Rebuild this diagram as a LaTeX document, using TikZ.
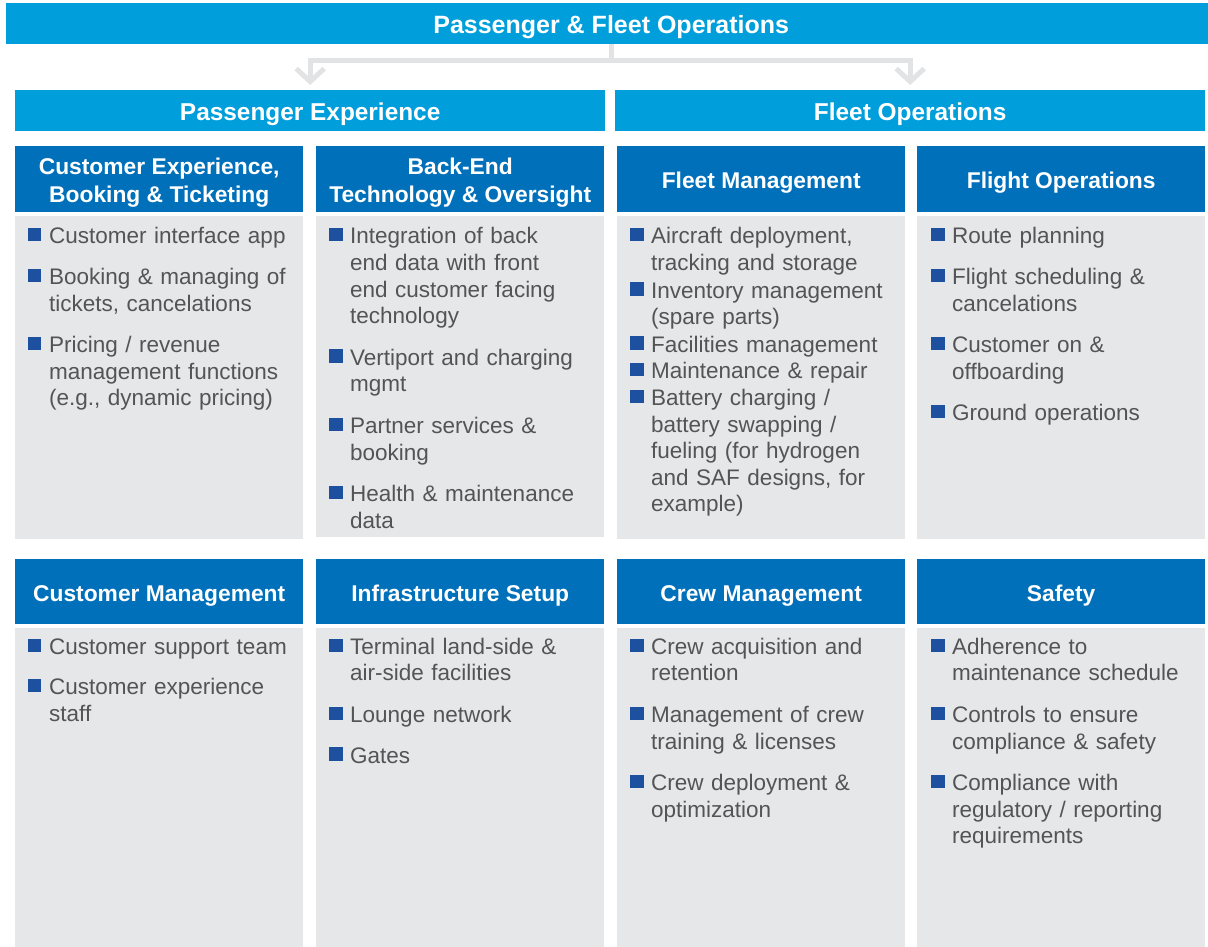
\documentclass[tikz,border=0pt]{standalone}
\usepackage{fontspec}
\setmainfont{Liberation Sans}
\usetikzlibrary{arrows.meta}
\definecolor{topblue}{RGB}{0,158,219}
\definecolor{headblue}{RGB}{0,112,186}
\definecolor{bodygray}{RGB}{230,231,232}
\definecolor{bltblue}{RGB}{30,80,160}
\definecolor{txtgray}{RGB}{84,84,86}
\definecolor{conngray}{RGB}{226,227,228}
% square bullet and one list entry (optional: space after it)
\newcommand{\sqbul}{\makebox[21pt][l]{\textcolor{bltblue}{\rule[2.5pt]{13.3pt}{13.3pt}}}}
\newcommand{\bitem}[2][14pt]{\noindent\sqbul\begin{tabular}[t]{@{}l@{}}#2\end{tabular}\par\vspace{#1}}

\begin{document}
\begin{tikzpicture}[x=1pt, y=-1pt,
    topbar/.style={anchor=north west, fill=topblue, text=white, inner sep=0pt, minimum height=40.5pt, text height=25pt, font=\fontsize{24.4}{28}\selectfont\bfseries},
    colhead/.style={anchor=north west, fill=headblue, text=white, inner sep=0pt, minimum width=288pt, minimum height=65.5pt, text height=24.6pt, align=center, font=\fontsize{22.8}{28}\selectfont\bfseries},
    colhead2/.style={colhead, text height=52.6pt},
    colbody/.style={anchor=north west, fill=bodygray, inner sep=0pt, minimum width=288pt},
    items/.style={anchor=north west, inner sep=0pt, text width=270pt, align=left, text=txtgray, font=\fontsize{22.5}{26.6}\selectfont},
    conn/.style={conngray, line width=5pt, -{Straight Barb[length=13pt, width=28pt]}, shorten >=5pt}]
  \useasboundingbox (0,0) rectangle (1208,946);

  % Top: whole operation
  \node[topbar, minimum width=1210pt, font=\fontsize{25}{28}\selectfont\bfseries, text height=26pt] (pfo) at (6,3) {Passenger \& Fleet Operations};

  % Second level
  \node[topbar, minimum width=590pt] (pe) at (15,90) {Passenger Experience};
  \node[topbar, minimum width=590pt] (fo) at (615,90) {Fleet Operations};

  % Connectors
  \draw[conn] (pfo.south) -- ++(0,17) -| (pe.north);
  \draw[conn] (pfo.south) -- ++(0,17) -| (fo.north);

  % Upper row of boxes
  \node[colhead2] (ceb) at (15,146) {Customer Experience,\\Booking \& Ticketing};
  \node[colhead2] (bet) at (316,146) {Back-End\\Technology \& Oversight};
  \node[colhead] (fm) at (617,146) {Fleet Management};
  \node[colhead] (fop) at (917,146) {Flight Operations};
  \node[colbody, minimum height=323pt] (cebb) at (15,216) {};
  \node[colbody, minimum height=321pt] (betb) at (316,216) {};
  \node[colbody, minimum height=323pt] (fmb) at (617,216) {};
  \node[colbody, minimum height=323pt] (fopb) at (917,216) {};

  \node[items] (cebt) at (28,225) {
    \bitem{Customer interface app}
    \bitem{Booking \& managing of\\tickets, cancelations}
    \bitem{Pricing / revenue\\management functions\\(e.g., dynamic pricing)}
  };
  \node[items] (bett) at (329,225) {
    \bitem{Integration of back\\end data with front\\end customer facing\\technology}
    \bitem{Vertiport and charging\\mgmt}
    \bitem{Partner services \&\\booking}
    \bitem{Health \& maintenance\\data}
  };
  \node[items] (fmt) at (630,225) {
    \bitem[0pt]{Aircraft deployment,\\tracking and storage}
    \bitem[0pt]{Inventory management\\(spare parts)}
    \bitem[0pt]{Facilities management}
    \bitem[0pt]{Maintenance \& repair}
    \bitem[0pt]{Battery charging /\\battery swapping /\\fueling (for hydrogen\\and SAF designs, for\\example)}
  };
  \node[items] (fopt) at (931,225) {
    \bitem{Route planning}
    \bitem{Flight scheduling \&\\cancelations}
    \bitem{Customer on \&\\offboarding}
    \bitem{Ground operations}
  };

  % Lower row of boxes
  \node[colhead, minimum height=65pt] (cm) at (15,559) {Customer Management};
  \node[colhead, minimum height=65pt] (is) at (316,559) {Infrastructure Setup};
  \node[colhead, minimum height=65pt] (crm) at (617,559) {Crew Management};
  \node[colhead, minimum height=65pt] (sf) at (917,559) {Safety};
  \node[colbody, minimum height=320pt] (cmb) at (15,628) {};
  \node[colbody, minimum height=320pt] (isb) at (316,628) {};
  \node[colbody, minimum height=320pt] (crmb) at (617,628) {};
  \node[colbody, minimum height=320pt] (sfb) at (917,628) {};

  \node[items] (cmt) at (28,635.5) {
    \bitem{Customer support team}
    \bitem{Customer experience\\staff}
  };
  \node[items] (ist) at (329,635.5) {
    \bitem{Terminal land-side \&\\air-side facilities}
    \bitem{Lounge network}
    \bitem{Gates}
  };
  \node[items] (crmt) at (630,635.5) {
    \bitem{Crew acquisition and\\retention}
    \bitem{Management of crew\\training \& licenses}
    \bitem{Crew deployment \&\\optimization}
  };
  \node[items] (sft) at (931,635.5) {
    \bitem{Adherence to\\maintenance schedule}
    \bitem{Controls to ensure\\compliance \& safety}
    \bitem{Compliance with\\regulatory / reporting\\requirements}
  };
\end{tikzpicture}
\end{document}
